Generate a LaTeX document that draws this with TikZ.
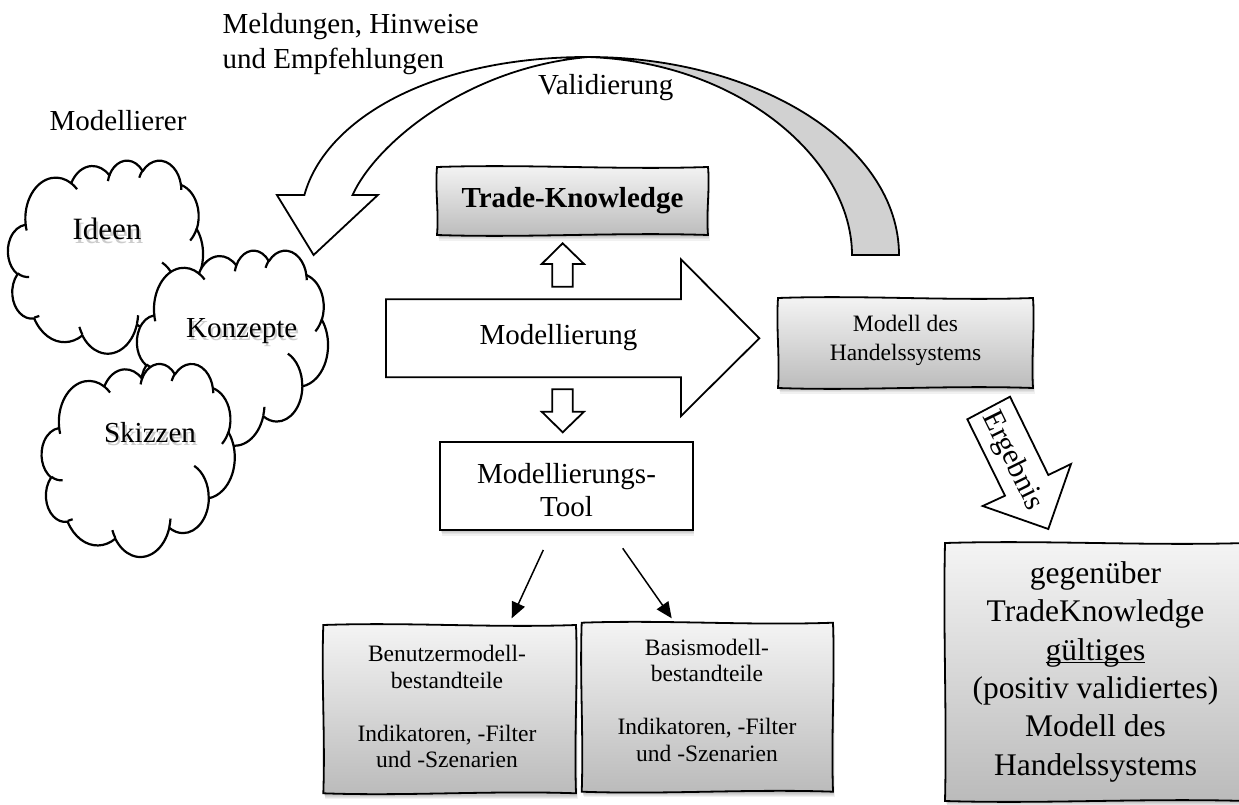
\documentclass[tikz,border=0pt]{standalone}
\usepackage{fontspec}
\setmainfont{Liberation Serif}
\usetikzlibrary{arrows.meta}

% font size helper
\newcommand\fs[2]{\fontsize{#1}{#2}\selectfont}

% ellipse arc given by start angle and sweep measured on the ellipse (y downwards)
\newcommand\wcang[4]{%
  \pgfmathparse{atan2((#1)*sin(#3),(#2)*cos(#3))}\global\let\wcTa\pgfmathresult
  \pgfmathparse{atan2((#1)*sin((#3)+(#4)),(#2)*cos((#3)+(#4)))}\let\wcTr\pgfmathresult
  \pgfmathparse{0-((\wcTr)+360*round(((\wcTa)+(#4)-(\wcTr))/360))}\global\let\wcTb\pgfmathresult
  \pgfmathparse{0-(\wcTa)}\global\let\wcTa\pgfmathresult}
\newcommand\wcseg[4]{\pgfextra{\wcang{#1}{#2}{#3}{#4}} arc[start angle=\wcTa, end angle=\wcTb, x radius=#1pt, y radius=#2pt]}

% box with slightly wavy edges
\newcommand\wavyrect[5]{%
  \pgfmathsetmacro\wxa{#1+(#3-#1)/3}\pgfmathsetmacro\wxb{#1+2*(#3-#1)/3}%
  \pgfmathsetmacro\wya{#2+(#4-#2)/3}\pgfmathsetmacro\wyb{#2+2*(#4-#2)/3}%
  \path[#5] (#1,#2) .. controls (\wxa,#2-3) and (\wxb,#2+3) .. (#3,#2)
    .. controls (#3+2,\wya) and (#3-2,\wyb) .. (#3,#4)
    .. controls (\wxb,#4-3) and (\wxa,#4+3) .. (#1,#4)
    .. controls (#1+2,\wyb) and (#1-2,\wya) .. (#1,#2) -- cycle;}

% soft shadow under a box
\newcommand\boxshadow[4]{%
  \foreach \k in {1,...,5}{\fill[black,opacity=0.055] (#1+0.4*\k,#2+0.9*\k) rectangle (#3+0.3*\k,#4+1.1*\k);}}

% text with a soft grey shadow
\newcommand\shtxt[1]{%
  \makebox[0pt][l]{\raisebox{-3pt}{\kern2pt\textcolor{black!20}{#1}}}#1}

% underlined word with the rule close to the baseline
\newcommand\ulw[1]{\setbox0=\hbox{#1}\makebox[0pt][l]{\rule[-3pt]{\wd0}{1.2pt}}#1}

\tikzset{
  wcloud/.pic={
    \path[cloudline, fill=white] (39,143.70)
      \wcseg{67.53}{91.90}{-190.4875}{123.7805}
      \wcseg{53.33}{72.67}{-144.1024}{89.9452}
      \wcseg{43.65}{59.45}{-145.8079}{99.7230}
      \wcseg{48.57}{65.95}{-130.9861}{117.2417}
      \wcseg{53.33}{72.73}{-78.7089}{109.0269}
      \wcseg{67.75}{92.20}{-46.2673}{130.2690}
      \wcseg{57.85}{78.67}{0.6250}{114.0333}
      \wcseg{67.52}{92.15}{22.4516}{115.1726}
      \wcseg{77.20}{105.43}{66.2426}{75.7110}
      \wcseg{43.60}{59.18}{-274.9421}{146.7356}
      \wcseg{43.45}{59.45}{-246.8285}{152.5189}
      -- cycle;
    \path[cloudline]
      (46.93,261.77) \wcseg{43.45}{59.45}{86.7420}{26.4295}
      (69.28,348.99) \wcseg{43.60}{59.18}{73.6105}{11.4475}
      (164.78,390.90) \wcseg{67.52}{92.15}{137.6242}{14.0811}
      (288.27,347.51) \wcseg{67.52}{92.15}{6.4533}{15.9984}
      (341.29,229.54) \wcseg{57.85}{78.67}{-70.2924}{70.9174}
      (417.98,153.54) \wcseg{53.33}{72.73}{30.3180}{27.7515}
      (383.24,54.26) \wcseg{48.57}{65.95}{-13.7443}{14.8589}
      (290.78,39.52) \wcseg{48.57}{65.95}{-149.1815}{18.1954}
      (221.41,47.20) \wcseg{43.65}{59.45}{-163.4943}{17.6864}
      (140.00,51.92) \wcseg{67.53}{91.90}{-66.7070}{12.3194}
      (41.27,157.89) \wcseg{67.53}{91.90}{157.6544}{11.8582};
  }
}

\begin{document}
\begin{tikzpicture}[x=1pt,y=-1pt,
  outl/.style={draw=black,line width=1.8pt,line join=miter},
  cloudline/.style={draw=black,line width=2.2pt,line join=round},
  greyfill/.style={top color=black!4,bottom color=black!27},
  lbl/.style={inner sep=0pt,outer sep=0pt},
  conn/.style={line width=1.5pt,-{Triangle[length=16pt,width=14pt]}}]

\useasboundingbox (0,0) rectangle (1239,805);
\clip (0,0) rectangle (1239,805);
\fill[white] (0,0) rectangle (1239,805);

% ---- clouds of the modeller ----
\pic[xscale=0.4514,yscale=0.4468] at (8,160) {wcloud};
\node[lbl,anchor=base,font={\fs{31}{36}}] (ideen) at (107,240) {\shtxt{Ideen}};
\pic[xscale=0.4421,yscale=0.4514] at (137,250) {wcloud};
\node[lbl,anchor=base,font={\fs{29}{34}}] (konzepte) at (241.7,337.5) {\shtxt{Konzepte}};
\pic[xscale=0.4468,yscale=0.4468] at (41.7,363.3) {wcloud};
\node[lbl,anchor=base,font={\fs{29}{34}}] (skizzen) at (150,442) {\shtxt{Skizzen}};

% ---- curved feedback arrow ----
\path[outl,fill=black!18] (588,57) .. controls (759,57) and (899,145.7) .. (899,255)
  -- (852,255) .. controls (852,160) and (740,62) .. (588,57) -- cycle;
\path[outl,fill=white] (304.4,195) .. controls (325,120) and (430,57) .. (588,57)
  .. controls (465,68) and (375,145) .. (352.6,195)
  -- (377.9,195) -- (313.6,255) -- (276.9,195) -- cycle;

% ---- free labels ----
\node[lbl,anchor=west,align=left,font={\fs{29}{35}}] (meld) at (222.7,43.9)
  {Meldungen, Hinweise\\und Empfehlungen};
\node[lbl,anchor=base west,font={\fs{29}{34}}] (valid) at (538,95) {Validierung};
\node[lbl,anchor=base west,font={\fs{29}{34}}] (modeller) at (49.6,131) {Modellierer};

% ---- Trade-Knowledge ----
\boxshadow{437}{167}{708}{235}
\wavyrect{437}{167}{708}{235}{outl,greyfill}
\node[lbl,font={\fs{29}{34}\bfseries}] (tk) at (572.5,201) {Trade-Knowledge};

% ---- modelling arrow with its two small arrows ----
\path[outl,fill=white] (562.7,243.3) -- (584,264) -- (572.7,264) -- (572.7,286.7)
  -- (552.3,286.7) -- (552.3,264) -- (541.7,264) -- cycle;
\path[outl,fill=white] (386,299.3) -- (681,299.3) -- (681,259.3) -- (759.3,338.3)
  -- (681,416) -- (681,377.3) -- (386,377.3) -- cycle;
\node[lbl,font={\fs{29}{34}}] (modl) at (558.5,338) {Modellierung};
\path[outl,fill=white] (552.3,389.3) -- (572.7,389.3) -- (572.7,411.7) -- (584,411.7)
  -- (562.7,432.3) -- (541.7,411.7) -- (552.3,411.7) -- cycle;

% ---- modelling tool ----
\boxshadow{440}{442.3}{692.7}{530}
\path[outl,fill=white] (440,442.3) rectangle (692.7,530);
\node[lbl,align=center,font={\fs{29}{32.7}}] (tool) at (566.5,489.8) {Modellierungs-\\Tool};

% ---- model of the trading system ----
\boxshadow{778}{298}{1033}{388}
\wavyrect{778}{298}{1033}{388}{outl,greyfill}
\node[lbl,align=center,font={\fs{23.5}{28.3}}] (mdh) at (905.5,340.5) {Modell des\\Handelssystems};

% ---- result arrow ----
\path[outl,fill=white] (967.3,419.3) -- (1010,396.7) -- (1048.3,475) -- (1071,464)
  -- (1048.3,529) -- (982.7,506) -- (1005,495.7) -- cycle;
\node[lbl,rotate=-63.8,font={\fs{30}{34}}] (erg) at (1012,461) {Ergebnis};

% ---- model components ----
\boxshadow{323.3}{625}{576}{793.3}
\wavyrect{323.3}{625}{576}{793.3}{outl,greyfill}
\node[lbl,align=center,font={\fs{23.5}{26.5}}] (ben) at (447,706.7)
  {Benutzermodell-\\bestandteile\\[26.5pt]Indikatoren, -Filter\\und -Szenarien};
\boxshadow{581.7}{622.7}{833}{791.7}
\wavyrect{581.7}{622.7}{833}{791.7}{outl,greyfill}
\node[lbl,align=center,font={\fs{23.5}{26.5}}] (basis) at (707,700)
  {Basismodell-\\bestandteile\\[26.5pt]Indikatoren, -Filter\\und -Szenarien};

\coordinate (toolL) at (543.3,550);
\coordinate (benT) at (511.7,618.3);
\coordinate (toolR) at (622.7,548.3);
\coordinate (basT) at (671.7,618.3);
\draw[conn] (toolL) -- (benT);
\draw[conn] (toolR) -- (basT);

% ---- validated result ----
\boxshadow{945}{543}{1246}{801}
\wavyrect{945}{543}{1246}{801}{outl,greyfill}
\node[lbl,align=center,font={\fs{31.5}{38.4}}] (result) at (1095.5,671.8)
  {gegenüber\\TradeKnowledge\\\ulw{gültiges}\\(positiv validiertes)\\Modell des\\Handelssystems};

\end{tikzpicture}
\end{document}
